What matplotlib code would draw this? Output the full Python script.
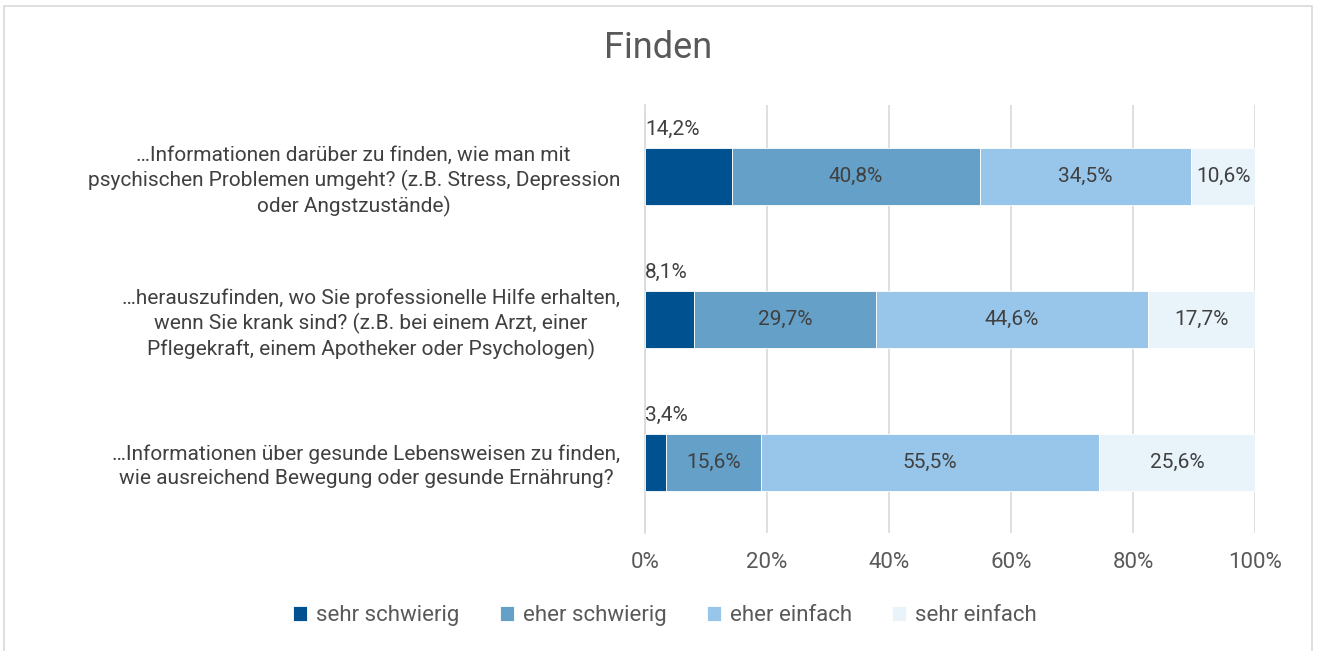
import matplotlib.pyplot as plt
from matplotlib.patches import Rectangle
import numpy as np

plt.rcParams['font.family'] = ['Roboto', 'DejaVu Sans']

questions = [
    "…Informationen darüber zu finden, wie man mit\npsychischen Problemen umgeht? (z.B. Stress, Depression\noder Angstzustände)",
    "…herauszufinden, wo Sie professionelle Hilfe erhalten,\nwenn Sie krank sind? (z.B. bei einem Arzt, einer\nPflegekraft, einem Apotheker oder Psychologen)",
    "…Informationen über gesunde Lebensweisen zu finden,\nwie ausreichend Bewegung oder gesunde Ernährung?",
]
categories = ["sehr schwierig", "eher schwierig", "eher einfach", "sehr einfach"]
sehr_schwierig = [14.2, 8.1, 3.4]
eher_schwierig = [40.8, 29.7, 15.6]
eher_einfach = [34.5, 44.6, 55.5]
sehr_einfach = [10.6, 17.7, 25.6]
series = [sehr_schwierig, eher_schwierig, eher_einfach, sehr_einfach]
colors = ["#00518F", "#64A0C8", "#98C6EA", "#E8F3FA"]
text_col = "#595959"

fig = plt.figure(figsize=(13.17, 6.51), dpi=100)
ax = fig.add_axes([0.4897, 0.1805, 0.4632, 0.6582])

y = np.arange(len(questions))
left = np.zeros(len(questions))
for name, vals, col in zip(categories, series, colors):
    vals = np.array(vals)
    ax.barh(y, vals, left=left, height=0.4, color=col, label=name,
            edgecolor="white", linewidth=0.6, zorder=3)
    for i, v in enumerate(vals):
        lbl = f"{v:.1f}%".replace(".", ",")
        if name == "sehr schwierig":
            ax.text(0, y[i] - 0.33, lbl, ha="left", va="center",
                    fontsize=15, color="#404040", zorder=4)
        else:
            ax.text(left[i] + v / 2, y[i], lbl, ha="center", va="center",
                    fontsize=15, color="#404040", zorder=4)
    left += vals

ax.set_xlim(0, 100)
ax.set_ylim(2.5, -0.5)
ax.set_xticks([0, 20, 40, 60, 80, 100])
ax.set_xticklabels([f"{t}%" for t in [0, 20, 40, 60, 80, 100]])
ax.set_yticks(y)
ax.set_yticklabels(questions, multialignment="center", linespacing=1.3)
ax.tick_params(axis="x", length=0, labelsize=16, labelcolor=text_col, pad=13)
ax.tick_params(axis="y", length=0, labelsize=15, labelcolor="#404040", pad=18)
ax.grid(axis="x", color="#D9D9D9", linewidth=1.2, zorder=0)
for s in ["top", "right", "bottom"]:
    ax.spines[s].set_visible(False)
ax.spines["left"].set_color("#D9D9D9")
ax.spines["left"].set_linewidth(1.2)

fig.text(0.5, 0.926, "Finden", ha="center", va="center", fontsize=26,
         color=text_col)

fig.legend(loc="center", bbox_to_anchor=(0.505, 0.054), ncol=4, frameon=False,
           fontsize=16, labelcolor=text_col, handlelength=0.65,
           handleheight=0.65, handletextpad=0.4, columnspacing=1.8)

fig.patches.append(Rectangle((4 / 1317, -0.02), 1308 / 1317, 1.02 - 6 / 651,
                             transform=fig.transFigure, fill=False,
                             edgecolor="#D9D9D9", linewidth=1.2))

fig.savefig("out.png", dpi=100)
